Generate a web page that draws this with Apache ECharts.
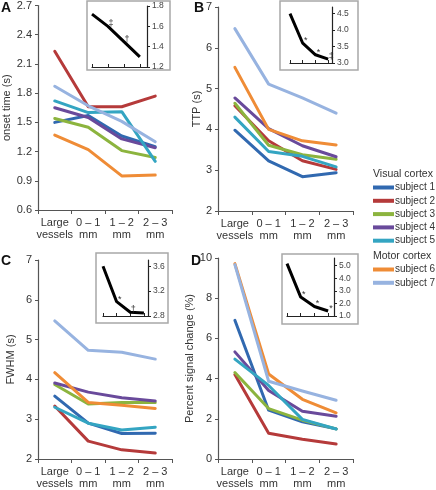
<!DOCTYPE html>
<html><head><meta charset="utf-8">
<script src="https://cdn.jsdelivr.net/npm/echarts@6/dist/echarts.min.js"></script>
<style>html,body{margin:0;padding:0;background:#fff}#c{width:436px;height:490px}</style>
</head><body><div id="c"></div>
<script>
const categories = ['Large\nvessels', '0 – 1\nmm', '1 – 2\nmm', '2 – 3\nmm'];
const subjects = ['subject 1', 'subject 2', 'subject 3', 'subject 4', 'subject 5', 'subject 6', 'subject 7'];
const colors = ['#3169b0', '#b53a3a', '#8cb43e', '#694a9b', '#34a5c2', '#ef8c36', '#97b3e0'];

// Panel A: onset time (s), rows = subject 1..7
const onsetTime = [
  [1.50, 1.57, 1.36, 1.25],
  [2.23, 1.66, 1.66, 1.77],
  [1.54, 1.45, 1.21, 1.14],
  [1.65, 1.55, 1.33, 1.24],
  [1.72, 1.60, 1.61, 1.10],
  [1.37, 1.22, 0.95, 0.96],
  [1.87, 1.67, 1.51, 1.30]
];
// Panel B: TTP (s)
const ttp = [
  [3.98, 3.23, 2.84, 2.94],
  [4.58, 3.72, 3.23, 3.02],
  [4.64, 3.61, 3.38, 3.27],
  [4.77, 4.02, 3.60, 3.33],
  [4.30, 3.46, 3.34, 3.08],
  [5.52, 4.00, 3.72, 3.62],
  [6.47, 5.11, 4.77, 4.40]
];
// Panel C: FWHM (s)
const fwhm = [
  [3.58, 2.90, 2.64, 2.65],
  [3.33, 2.45, 2.23, 2.15],
  [3.87, 3.38, 3.42, 3.42],
  [3.91, 3.68, 3.54, 3.46],
  [3.30, 2.90, 2.73, 2.80],
  [4.17, 3.42, 3.35, 3.27],
  [5.47, 4.73, 4.68, 4.51]
];
// Panel D: percent signal change (%)
const psc = [
  [6.90, 2.43, 1.85, 1.50],
  [4.20, 1.28, 0.98, 0.75],
  [4.30, 2.51, 1.93, 1.50],
  [5.33, 3.41, 2.38, 2.13],
  [4.97, 3.66, 1.97, 1.49],
  [9.72, 4.23, 2.97, 2.30],
  [9.67, 3.87, 3.38, 2.92]
];
// Insets (mean curves) and significance marks
const insetA = [1.72, 1.60, 1.45, 1.30];
const insetB = [4.50, 3.60, 3.25, 3.12];
const insetC = [3.60, 3.03, 2.86, 2.85];
const insetD = [5.15, 2.50, 1.75, 1.40];
const marksA = ['', '‡', '†', ''];
const marksB = ['', '*', '*', '‡'];
const marksC = ['', '*', '†', ''];
const marksD = ['', '*', '*', '*'];

const yTicksA = {min: 0.6, max: 2.7, interval: 0.3};
const yTicksB = {min: 2, max: 7, interval: 1};
const yTicksC = {min: 2, max: 7, interval: 1};
const yTicksD = {min: 0, max: 10, interval: 2};

const FONT = 'Liberation Sans, Arial, sans-serif';
const panels = [
  {data: onsetTime, name: 'onset time (s)', y: yTicksA, dec: 1, gap: 26, grid: {left: 38, top: 5, width: 134, height: 205}},
  {data: ttp, name: 'TTP (s)', y: yTicksB, dec: 0, gap: 16, grid: {left: 218, top: 7, width: 135, height: 204}},
  {data: fwhm, name: 'FWHM (s)', y: yTicksC, dec: 0, gap: 22, grid: {left: 38, top: 260, width: 134, height: 203}},
  {data: psc, name: 'Percent signal change (%)', y: yTicksD, dec: 0, gap: 16, grid: {left: 218, top: 258, width: 135, height: 205}}
];
const insets = [
  {vals: insetA, marks: marksA, min: 1.2, max: 1.8, interval: 0.2, dec: 1, xmax: 3.45, grid: {left: 92, top: 6, width: 55, height: 61}},
  {vals: insetB, marks: marksB, min: 3.0, max: 4.7, interval: 0.5, dec: 1, xmax: 3.3, grid: {left: 290, top: 7, width: 42, height: 56}},
  {vals: insetC, marks: marksC, min: 2.8, max: 3.7, interval: 0.4, dec: 1, xmax: 3.3, grid: {left: 103, top: 260, width: 45, height: 56}},
  {vals: insetD, marks: marksD, min: 1, max: 5.6, interval: 1, dec: 1, xmax: 3.43, grid: {left: 287, top: 258, width: 47, height: 58}}
];
const boxes = [
  [87, 1, 83, 69], [280, 1, 78, 69], [96, 253, 72, 70], [282, 254, 76, 70]
];

const grid = [], xAxis = [], yAxis = [], series = [];
panels.forEach((p, pi) => {
  grid.push(p.grid);
  xAxis.push({
    type: 'category', gridIndex: pi, data: categories, boundaryGap: true,
    axisLine: {lineStyle: {color: '#555', width: 1.2}},
    axisTick: {show: true, length: 4, lineStyle: {color: '#555'}},
    axisLabel: {color: '#333', fontSize: 11, fontFamily: FONT, margin: 7, lineHeight: 12, interval: 0},
    splitLine: {show: false}
  });
  yAxis.push({
    type: 'value', gridIndex: pi, min: p.y.min, max: p.y.max, interval: p.y.interval,
    name: p.name, nameLocation: 'middle', nameGap: p.gap,
    nameTextStyle: {color: '#333', fontSize: 11, fontFamily: FONT},
    axisLine: {show: true, onZero: false, lineStyle: {color: '#555', width: 1.2}},
    axisTick: {show: true, length: 3, lineStyle: {color: '#555'}},
    axisLabel: {color: '#333', fontSize: 11, fontFamily: FONT, margin: 6,
      formatter: v => v.toFixed(p.dec)},
    splitLine: {show: false}
  });
  p.data.forEach((row, si) => {
    series.push({
      type: 'line', name: subjects[si], xAxisIndex: pi, yAxisIndex: pi,
      data: row, showSymbol: false, symbol: 'none', silent: true,
      lineStyle: {color: colors[si], width: 3, cap: 'round', join: 'round'},
      itemStyle: {color: colors[si]}, z: 3
    });
  });
});
insets.forEach((s, k) => {
  const gi = 4 + k;
  grid.push(s.grid);
  xAxis.push({
    type: 'value', gridIndex: gi, min: 0, max: s.xmax, interval: 1, z: 20,
    axisLine: {onZero: false, lineStyle: {color: '#222', width: 1.2}},
    axisTick: {show: true, length: 3, inside: true, lineStyle: {color: '#222'}},
    axisLabel: {show: false}, splitLine: {show: false}
  });
  yAxis.push({
    type: 'value', gridIndex: gi, position: 'right', min: s.min, max: s.max, interval: s.interval, z: 20,
    axisLine: {show: true, onZero: false, lineStyle: {color: '#222', width: 1.2}},
    axisTick: {show: true, length: 3, lineStyle: {color: '#222'}},
    axisLabel: {color: '#444', fontSize: 8.5, fontFamily: FONT, margin: 5,
      formatter: v => v.toFixed(s.dec)},
    splitLine: {show: false}
  });
  series.push({
    type: 'line', xAxisIndex: gi, yAxisIndex: gi, silent: true,
    data: s.vals.map((v, i) => [i, v]),
    showSymbol: true, symbol: 'circle', symbolSize: 0.1,
    lineStyle: {color: '#000', width: 3, join: 'round'},
    itemStyle: {color: '#000'},
    label: {show: true, position: 'top', distance: 1, offset: [3, 3],
      fontSize: 9, color: '#333', fontFamily: FONT,
      formatter: q => s.marks[q.dataIndex]},
    z: 25
  });
});

const graphic = [];
boxes.forEach(b => graphic.push({
  type: 'rect', shape: {x: b[0], y: b[1], width: b[2], height: b[3]},
  style: {fill: '#fff', stroke: '#a8a8a8', lineWidth: 1.5}, z: -10, silent: true
}));
const letters = [['A', 6, 8], ['B', 199, 8], ['C', 6, 261], ['D', 196, 261]];
letters.forEach(l => graphic.push({
  type: 'text', x: l[1], y: l[2], z: 10,
  style: {text: l[0], fontSize: 14, fontWeight: 'bold', fontFamily: FONT, fill: '#111', align: 'center', verticalAlign: 'middle'}
}));
graphic.push({type: 'text', x: 373, y: 174, z: 10,
  style: {text: 'Visual cortex', fontSize: 10.5, fontFamily: FONT, fill: '#333', verticalAlign: 'middle'}});
graphic.push({type: 'text', x: 373, y: 256, z: 10,
  style: {text: 'Motor cortex', fontSize: 10.5, fontFamily: FONT, fill: '#333', verticalAlign: 'middle'}});

const legendBase = {
  orient: 'vertical', left: 373, padding: 0, icon: 'rect', itemWidth: 21, itemHeight: 4,
  itemGap: 0.3, selectedMode: false,
  textStyle: {fontSize: 10, color: '#333', fontFamily: FONT, lineHeight: 13, padding: [0, 0, 0, -4]}
};
const legend = [
  Object.assign({}, legendBase, {top: 181, data: subjects.slice(0, 5)}),
  Object.assign({}, legendBase, {top: 263, data: subjects.slice(5)})
];

const chart = echarts.init(document.getElementById('c'), null, {renderer: 'canvas'});
chart.setOption({
  animation: false, backgroundColor: '#fff',
  grid, xAxis, yAxis, series, graphic, legend, tooltip: {show: false}
});
</script></body></html>
